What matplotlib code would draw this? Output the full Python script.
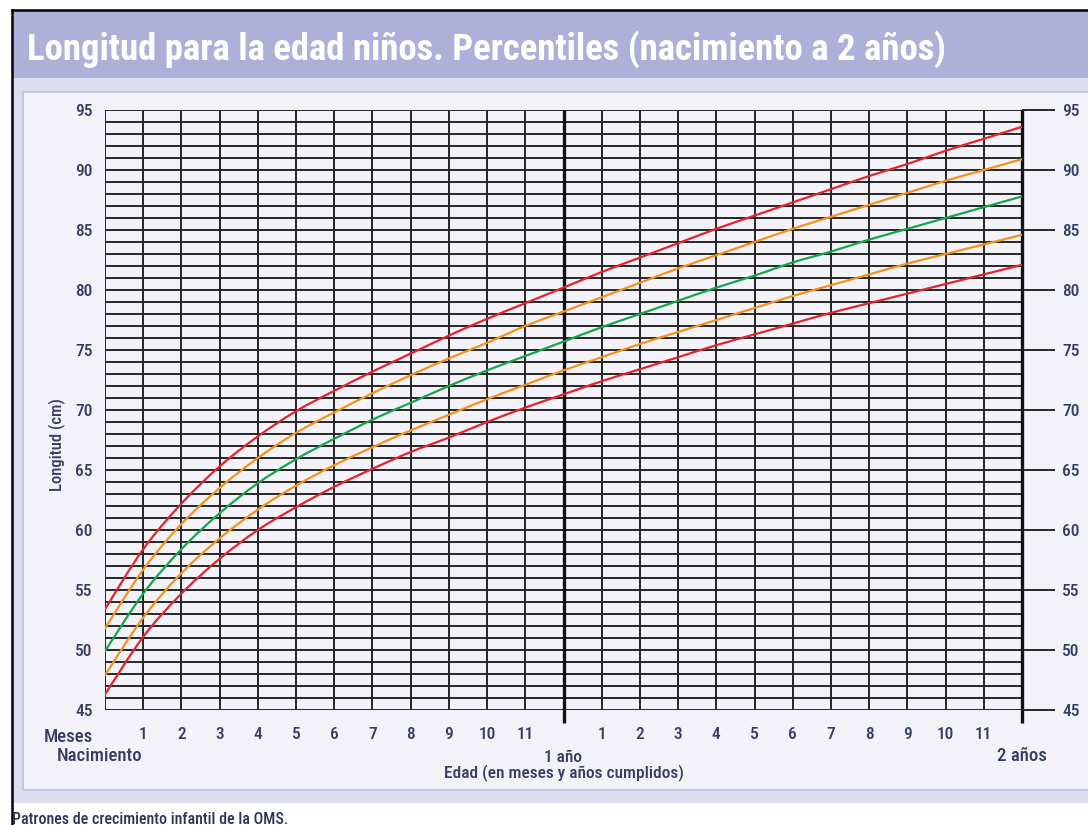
import numpy as np
import matplotlib
matplotlib.use("Agg")
import matplotlib.pyplot as plt
from matplotlib.patches import Rectangle, PathPatch
from matplotlib.path import Path
from matplotlib.lines import Line2D
import matplotlib.transforms as mtransforms

# ---- data: WHO length-for-age, boys, 0-24 months (cm) ----
months = list(range(0, 25))
p3  = [46.3, 51.1, 54.7, 57.6, 60.0, 61.9, 63.6, 65.1, 66.5, 67.7, 69.0, 70.2,
       71.3, 72.4, 73.4, 74.4, 75.4, 76.3, 77.2, 78.1, 78.9, 79.7, 80.5, 81.3, 82.1]
p15 = [47.9, 52.7, 56.4, 59.3, 61.7, 63.7, 65.4, 66.9, 68.3, 69.6, 70.9, 72.1,
       73.3, 74.4, 75.5, 76.5, 77.5, 78.5, 79.5, 80.4, 81.3, 82.2, 83.0, 83.8, 84.6]
p50 = [49.9, 54.7, 58.4, 61.4, 63.9, 65.9, 67.6, 69.2, 70.6, 72.0, 73.3, 74.5,
       75.7, 76.9, 78.0, 79.1, 80.2, 81.2, 82.3, 83.2, 84.2, 85.1, 86.0, 86.9, 87.8]
p85 = [51.8, 56.7, 60.5, 63.5, 66.0, 68.1, 69.8, 71.4, 72.9, 74.3, 75.6, 77.0,
       78.2, 79.4, 80.6, 81.8, 82.9, 84.0, 85.1, 86.1, 87.1, 88.1, 89.1, 90.0, 90.9]
p97 = [53.4, 58.4, 62.2, 65.3, 67.8, 69.9, 71.6, 73.2, 74.7, 76.2, 77.6, 78.9,
       80.2, 81.5, 82.7, 83.9, 85.1, 86.2, 87.3, 88.4, 89.5, 90.5, 91.6, 92.6, 93.6]

y_ticks = [45, 50, 55, 60, 65, 70, 75, 80, 85, 90, 95]
month_tick_pos = [1, 2, 3, 4, 5, 6, 7, 8, 9, 10, 11, 13, 14, 15, 16, 17, 18, 19, 20, 21, 22, 23]
month_tick_lab = ["1", "2", "3", "4", "5", "6", "7", "8", "9", "10", "11",
                  "1", "2", "3", "4", "5", "6", "7", "8", "9", "10", "11"]

title = "Longitud para la edad niños. Percentiles (nacimiento a 2 años)"

RED = "#e6232d"
ORANGE = "#f5921e"
GREEN = "#16a64c"
TXT = "#363d62"
GRID = "#262626"

FONT = ["Roboto Condensed", "Liberation Sans Narrow", "DejaVu Sans Condensed",
        "Liberation Sans", "DejaVu Sans"]
plt.rcParams["font.family"] = FONT

W, H = 1088, 825
fig = plt.figure(figsize=(W / 100, H / 100), dpi=100, facecolor="white")

def fx(x):
    return x / W

def fy(y):
    return 1 - y / H

def rect(x0, y0, x1, y1, **kw):
    fig.add_artist(Rectangle((fx(x0), fy(y1)), fx(x1) - fx(x0), fy(y0) - fy(y1),
                             transform=fig.transFigure, zorder=-10, **kw))

# frame / panels
rect(13, 78, 1090, 803, facecolor="#dcdcef", edgecolor="none")
rect(13, 11, 1090, 78, facecolor="#aeb0d9", edgecolor="none")
rect(23, 92, 1095, 790, facecolor="#f2f2f8", edgecolor="#c4c5e5", linewidth=1.5)
fig.add_artist(Line2D([fx(12), fx(1090)], [fy(10), fy(10)], color="black", lw=1.8,
                      transform=fig.transFigure, zorder=-5))
fig.add_artist(Line2D([fx(12), fx(12)], [fy(10), fy(830)], color="black", lw=1.8,
                      transform=fig.transFigure, zorder=-5))

fig.text(fx(27), fy(49), title, color="white", fontsize=26.5, fontweight="bold",
         ha="left", va="center")
fig.text(fx(12), fy(819), "Patrones de crecimiento infantil de la OMS.", color="#2e3454",
         fontsize=11.5, ha="left", va="center", fontweight="medium")

# axes
ax0, ax1, ay0, ay1 = 105, 1022, 110, 710
ax = fig.add_axes([fx(ax0), fy(ay1), fx(ax1) - fx(ax0), fy(ay0) - fy(ay1)])
ax.set_facecolor("none")
ax.set_xlim(0, 24)
ax.set_ylim(45, 95)
for s in ax.spines.values():
    s.set_visible(False)

# grid
cms = np.arange(45, 96)
ax.hlines(cms, 0, 24, color=GRID, lw=1.4, zorder=1)
thin_m = [m for m in months if m not in (12, 24)]
ax.vlines(thin_m, 45, 95, color=GRID, lw=1.4, zorder=1)
trans = mtransforms.blended_transform_factory(ax.transData, ax.transAxes)
for m in (12, 24):
    ax.plot([m, m], [1, -13 / 600], color="#111111", lw=2.4, transform=trans,
            clip_on=False, zorder=2, solid_capstyle="butt")

# curves: smooth Catmull-Rom (as cubic Bezier) through the monthly values
def smooth_path(xs, ys):
    P = np.column_stack([xs, ys]).astype(float)
    n = len(P)
    verts = [P[0]]
    codes = [Path.MOVETO]
    for i in range(n - 1):
        p0 = P[i - 1] if i > 0 else P[i]
        p1, p2 = P[i], P[i + 1]
        p3_ = P[i + 2] if i + 2 < n else P[i + 1]
        c1 = p1 + (p2 - p0) / 6.0
        c2 = p2 - (p3_ - p1) / 6.0
        verts += [c1, c2, p2]
        codes += [Path.CURVE4] * 3
    return Path(verts, codes)

for vals, c in [(p97, RED), (p85, ORANGE), (p50, GREEN), (p15, ORANGE), (p3, RED)]:
    ax.add_patch(PathPatch(smooth_path(months, vals), facecolor="none", edgecolor=c,
                           lw=1.6, zorder=3, capstyle="round"))

lab_kw = dict(labelsize=12.5, labelcolor=TXT)
# y labels left
ax.set_yticks(y_ticks)
ax.tick_params(axis="y", which="both", left=False, length=0, pad=9, **lab_kw)
# right side extension ticks + labels
axr = ax.twinx()
axr.set_ylim(45, 95)
for s in axr.spines.values():
    s.set_visible(False)
axr.set_yticks(y_ticks)
axr.tick_params(axis="y", direction="out", length=24, width=1.4, color=GRID, pad=5,
                **lab_kw)

# x labels
ax.set_xticks(month_tick_pos)
ax.set_xticklabels(month_tick_lab)
ax.tick_params(axis="x", length=0, pad=12, **lab_kw)
for lab in ax.get_xticklabels() + ax.get_yticklabels() + axr.get_yticklabels():
    lab.set_fontweight("medium")

def under(x, dy, s, ha="center", size=12.5):
    ax.annotate(s, xy=(x, 0), xycoords=("data", "axes fraction"),
                xytext=(0, -dy), textcoords="offset pixels", ha=ha, va="center",
                color=TXT, fontsize=size, annotation_clip=False, fontweight="medium")

ax.annotate("Meses", xy=(0, 0), xycoords=("data", "axes fraction"),
            xytext=(-12, -27), textcoords="offset pixels", ha="right", va="center",
            color=TXT, fontsize=13.5, annotation_clip=False, fontweight="medium")
ax.annotate("Nacimiento", xy=(0, 0), xycoords=("data", "axes fraction"),
            xytext=(-48, -46), textcoords="offset pixels", ha="left", va="center",
            color=TXT, fontsize=13.5, annotation_clip=False, fontweight="medium")
under(12, 47, "1 año")
under(24, 46, "2 años", size=13.5)
under(12, 63, "Edad (en meses y años cumplidos)")

fig.text(fx(57), fy(445), "Longitud (cm)", rotation=90, color=TXT, fontsize=12,
         ha="center", va="center", fontweight="medium")

fig.savefig("out.png", dpi=100, facecolor="white")
